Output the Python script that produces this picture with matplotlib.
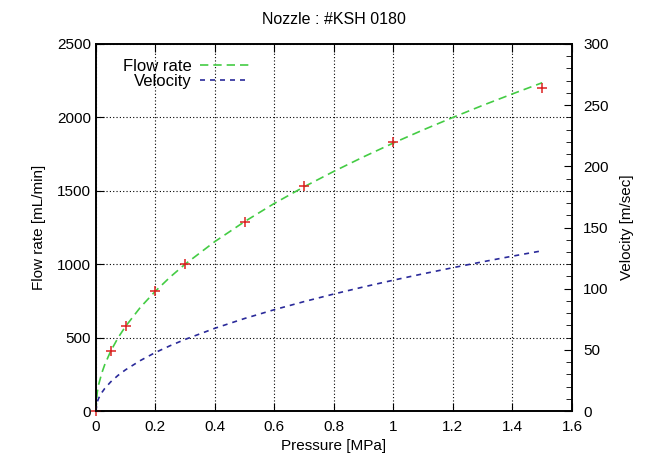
import numpy as np
import matplotlib
matplotlib.use("Agg")
from matplotlib import pyplot as plt
from matplotlib.ticker import MultipleLocator

plt.rcParams['font.family'] = ['Liberation Sans', 'DejaVu Sans']

# measured points (red crosses)
p_meas = [0, 0.05, 0.1, 0.2, 0.3, 0.5, 0.7, 1.0, 1.5]
q_meas = [0, 410, 580, 815, 1000, 1290, 1530, 1830, 2200]

# fitted curves
p_curve = [0, 0.005, 0.01, 0.02, 0.03, 0.05, 0.075, 0.1, 0.15, 0.2, 0.25, 0.3,
           0.4, 0.5, 0.6, 0.7, 0.8, 0.9, 1.0, 1.1, 1.2, 1.3, 1.4, 1.5]
q_curve = [0, 129, 183, 258, 316, 408, 500, 577, 707, 816, 913, 1000,
           1154, 1290, 1414, 1527, 1632, 1731, 1825, 1914, 1999, 2081, 2159, 2235]
v_curve = [0, 7.6, 10.7, 15.1, 18.5, 23.9, 29.3, 33.8, 41.4, 47.9, 53.5, 58.6,
           67.7, 75.7, 82.9, 89.5, 95.7, 101.5, 107, 112.2, 117.2, 122, 126.6, 131]

fig = plt.figure(figsize=(6.47, 4.61), dpi=100)
ax = fig.add_axes([0.148, 0.108, 0.736, 0.797])
ax2 = ax.twinx()

l1, = ax.plot(p_curve, q_curve, color='#44cc44', ls=(0, (5, 3)), lw=1.2, label='Flow rate')
ax.plot(p_meas, q_meas, ls='none', marker='+', color='#dd2222', ms=7, mew=1.1,
        zorder=5, clip_on=False)
l2, = ax2.plot(p_curve, v_curve, color='#2a2a9a', ls=(0, (3, 3)), lw=1.2, label='Velocity')

ax.set_xlim(0, 1.6)
ax.set_ylim(0, 2500)
ax2.set_ylim(0, 300)
ax.xaxis.set_major_locator(MultipleLocator(0.2))
ax.yaxis.set_major_locator(MultipleLocator(500))
ax2.yaxis.set_major_locator(MultipleLocator(50))
ax2.yaxis.set_minor_locator(MultipleLocator(10))
ax.xaxis.set_major_formatter(plt.FuncFormatter(lambda v, _: f'{v:g}'))

ax.grid(True, color='black', ls=(0, (1, 2)), lw=0.8)
ax.tick_params(axis='x', direction='in', top=True, length=6, labelsize=11, pad=6)
ax.tick_params(axis='y', direction='in', length=6, labelsize=11)
ax2.tick_params(axis='y', which='major', direction='in', length=6, labelsize=11, pad=8)
ax2.tick_params(axis='y', which='minor', direction='in', length=4)
for a in (ax, ax2):
    for s in a.spines.values():
        s.set_linewidth(1.2)

ax.set_xlabel('Pressure [MPa]', fontsize=11)
ax.set_ylabel('Flow rate [mL/min]', fontsize=11, labelpad=8)
ax2.set_ylabel('Velocity [m/sec]', fontsize=11, labelpad=8)
ax.set_title('Nozzle : #KSH 0180', fontsize=11.5, pad=14)

leg = ax.legend(handles=[l1, l2], loc='upper left', bbox_to_anchor=(0.025, 1.0),
                frameon=False, markerfirst=False, fontsize=12, handlelength=3.0,
                labelspacing=0.0, handletextpad=0.5)
leg._legend_box.align = 'right'

fig.savefig('out.png', dpi=100)
